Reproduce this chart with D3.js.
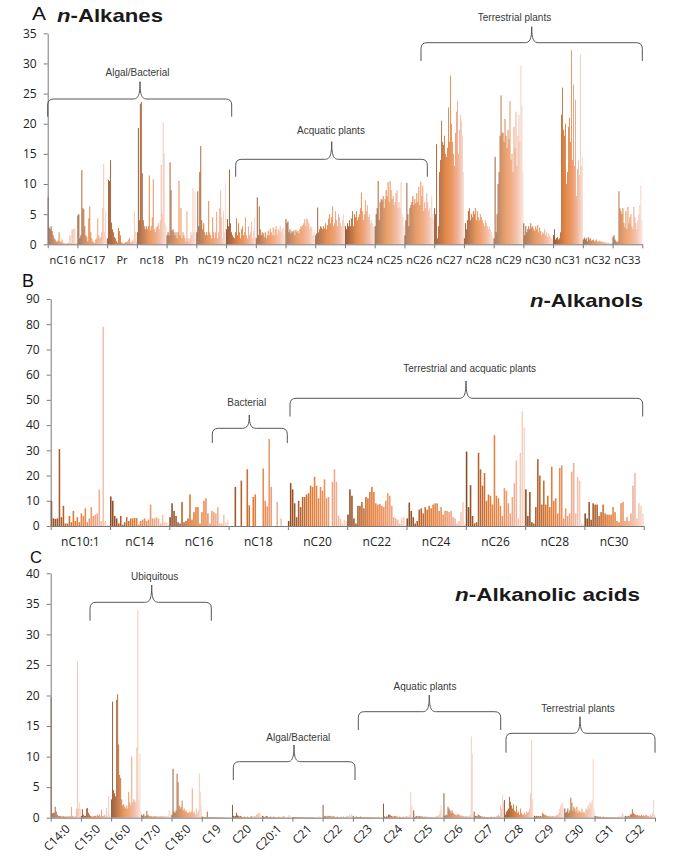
<!DOCTYPE html>
<html><head><meta charset="utf-8">
<script src="https://cdn.jsdelivr.net/npm/d3@7"></script>
<style>body{margin:0;background:#fff} svg{display:block}</style>
</head><body>
<svg id="chart" width="685" height="859"></svg>
<script>
// ---------- DATA ----------
const sampleCount = 30;
const colorStops = ["#8a4a22", "#b3602c", "#e07a32", "#ea8c52", "#efa98c", "#f7d8cc"];

// Panel A: n-Alkanes
const alkaneGroups = ["nC16","nC17","Pr","nc18","Ph","nC19","nC20","nC21","nC22","nC23","nC24","nC25","nC26","nC27","nC28","nC29","nC30","nC31","nC32","nC33"];
const alkaneTicks = [0,5,10,15,20,25,30,35];
const alkaneValues = [
 [7.9,2.8,2.5,3,2.2,1.5,1,0.8,0.5,0.4,0.6,2,0.5,0.3,0.8,0.2,0.2,0.1,0.1,0.2,0.2,0.3,1.5,0.2,2.4,2.5,2.6,2.6,0.2,0.3],
 [4.8,5,1,1.5,12.3,6,5.8,3,1.5,1.2,0.5,4.3,6.3,2,1,0.5,0.3,0.2,0.8,1,4.3,1.5,1,1.2,2,6,13.3,2,5.5,1],
 [1,10.7,10.5,14,3.6,2.5,2,1.2,1,0.5,0.3,2.7,2.2,1.5,0.3,0.2,0.1,0.2,0.3,0.4,0.5,0.8,1.1,0.3,0.4,0.6,0.8,5.5,2.1,0.5],
 [2,19.3,4,23.3,23.6,11.8,4,3,2.5,3,2.5,3,11.4,2.3,3,4.5,10.8,2.5,2,2.8,3,3.5,2.5,4,13.2,5,20.2,15,3.5,3],
 [1.5,2,1.5,13.6,9,2.3,2.5,2,1.5,2,1,2,10.5,1.5,6,1,2,1.5,1,0.5,5.5,1,0.5,1,2,1.5,9.3,2,8.8,1],
 [2,8.8,3,12,16.3,4,2.5,3.5,2,1.5,2,1.5,7.2,2,1.5,1,4.5,2,1,2,5.4,1,2,6,8.9,4.5,1,5.5,2,10.2],
 [2.5,4.2,3,12.4,3.5,2,1.5,1.2,1,2,4.3,1.5,3.5,2,1,2.5,3,1.5,2,4.5,1.5,1,3,1.5,2,3.8,1,2.2,4.5,1.2],
 [1,7.8,1.5,6.3,2.5,1.5,2,1.8,1.2,2,1,1.5,2.2,1.5,2.6,2,1.5,2.8,1.5,2.5,3,1.5,2.5,2.2,3,2,2.5,2.8,1.5,2.5],
 [4.2,3.5,3.8,2,2.5,1.8,2.2,2,2.3,1.5,2.4,2,2.2,1.8,2.5,3,2.8,3.2,3.5,4.2,3,4.3,4,3.5,2.6,3,2.8,1.5,2,2.4],
 [1.5,1.8,6.1,2,2.5,3,2.8,2.5,3,2.6,3.5,2.5,3.2,4.2,5,3.5,4.5,6.3,3,3.5,5.5,4,3,5,4.5,3.5,3,4,5,3.5],
 [3,2.5,3.5,3,4,3,4.3,5.5,3,5,4.5,5.5,4,4.5,5,6,8.6,5.5,4,5,7.3,5.5,6.5,4.5,5,3.5,4,3.5,2.8,3],
 [3,5,6,10.5,4,7,7.5,7.3,8,6,7.5,9,8,10.3,7,10.5,9,7.5,8,6.5,7,8.5,9,6,7,6,10.3,5,4.5,3],
 [1.5,4,10.2,5,3,6,6.5,7,8,6.5,7.5,6.8,8.5,7,9.5,6.5,10.4,8,9.7,5.5,7,6,8.5,7,5.5,6,4.5,8,5,4],
 [6,5,16.6,1,3,12,14,20.5,17,16.5,18,15,14.5,16,22.7,17,28,20,17,15,13,18.5,22,23.8,15,19,21.5,20.5,18,12],
 [1,3.5,2.5,4,5.5,6,4,5,4.5,5.5,5,6,4,5.5,4.5,4,5,4.5,4,3.5,3,4,3.5,3,2.5,3,2.5,2,1.5,1],
 [1,14.5,2,5,10,12,18,24.7,18.5,18.5,17,20.8,18,16,19,17.5,23.8,14,15,12,19.5,16,22,13,18,21.5,17,29.6,23,12],
 [3.5,1.5,3,2,2.5,3,2.5,3.5,2.8,3,2.5,2.2,3,2.5,3.2,2,2.8,2.2,1.5,2,1.8,2.5,1.5,2,1.2,1.8,1.5,1.2,1,0.8],
 [1.5,2.5,0.8,1,1.2,0.8,1,2,21.5,26,19,18,20,10,12,19.5,21,17,32.2,14,26.5,13,24,8,12.5,14,11.5,31.5,13,14.5],
 [0.8,1.1,0.8,1,0.5,1.2,0.8,1,0.6,0.7,0.8,0.5,0.6,0.8,0.5,0.4,0.6,0.5,0.4,0.5,0.3,0.4,0.3,0.3,0.2,0.3,0.2,0.2,0.3,0.2],
 [1.2,1.5,0.8,0.5,0.3,0.5,8.8,6,5.5,5,6,3.5,2.8,5.5,2.5,6.2,3.5,4.5,5,3,2.5,6.2,4.5,3.5,2.5,4,5,6.5,9.8,4]
];

// Panel B: n-Alkanols
const alkanolGroups = ["nC10:1","nC14","nC16","nC18","nC20","nC22","nC24","nC26","nC28","nC30"];
const alkanolTicks = [0,10,20,30,40,50,60,70,80,90];
const alkanolValues = [
 [10,3,2.8,3,30.5,3.5,8,1,1,4,1.5,6,2,3.5,1.5,5,4,7,1.5,3,7.5,4,4.5,5,14.5,2,79,2,0.5,0.3],
 [11.7,10,4,3,1,4,0.5,1.5,3.5,2,3,3,3.2,3.2,0.5,2,2.5,3,2,2.5,8.5,3,3,3.5,3,1,4.5,1.5,1.5,0.5],
 [3.5,9,6,4,1.5,1,9.5,1.5,2,3,12.5,2.5,5.5,7.5,7.5,1,5.5,10,11,5,1,6,5.5,5,7.5,1,1,4.5,1.5,2.5],
 [0,0,0,15.5,0,0,18,0,0,22.5,8.2,0,11.5,12.5,0,0,0,22.8,10,7.8,34.5,15.5,0,0,9.5,0,3,0,0,0],
 [2,17,14.5,9,3.5,10,7.5,11.5,11.5,12.5,13,16,15.5,19.5,16,11,15.5,14,18.5,11,11.5,0,17.5,22.5,17.5,4,3,1,2.5,2],
 [4.5,14.5,12,3,1,8,8,9.5,7,11.5,11,13.5,15.5,13.5,9,8.5,8.8,8,7.5,10,13,12,8,3.5,3,2.5,1,3,3.5,0.5],
 [3,9.3,6,3.5,1,2,6.5,7,5,7.5,6.5,8,7,8.5,9,9,6,7.5,4.5,6,6,5.5,6,3.5,3,1,2,5.5,9.5,0.5],
 [29.5,7.5,16.2,4,1,1.5,29,22.5,16,21,10,12.5,12,8.5,36,12,11,8,4,15,14,9,5,11.5,17,26,3,29,45.5,39],
 [14.5,4,13.5,1.5,1,7.5,26.5,20,8.5,18,8.5,12,7.5,23.5,10,11,5,23,24,3,7,4,5,21.5,25,5,19.5,18,1,0.5],
 [5,3,9.5,2.5,9,8.5,8.5,4,5.5,8.5,5,4.5,4.5,4.5,7.5,5.5,2,1.5,9,9.5,2,3.5,2,5,16,21,3,9,8,5]
];

// Panel C: n-Alkanolic acids
const acidGroups = ["C14:0","C15:0","C16:0","C17:0","C18:0","C19","C20","C20:1","C21","C22","C23","C24","C25","C26","C27","C28","C29","C30","C31","C32"];
const acidTicks = [0,5,10,15,20,25,30,35,40];
const acidValues = [
 [19.7,0.7,0.8,0.8,1.8,1,0.5,0.3,0.3,0.3,0.2,0.2,0.3,0.2,0.2,0.2,0.2,0.2,0.3,0.2,1.8,0.3,0.2,0.2,0.3,1.5,25.5,1.5,2.5,1.5],
 [0.3,1.4,0.5,0.3,0.3,1.5,1.6,0.8,0.5,0.3,0.2,0.2,0.2,0.3,0.3,0.2,0.5,0.3,0.5,0.2,1.3,0.3,0.3,0.5,0.2,1.6,0.3,3.6,0.5,0.3],
 [3,19,4.5,4,3.5,19.3,20.2,12,7,6.5,3,2,2.2,1.8,1.5,2,1.5,4.2,2.5,2,10,2.5,3,2.8,2.5,11.5,34,3,10.5,1],
 [0.5,0.3,0.6,0.2,0.3,1.1,0.5,0.3,0.2,0.3,0.2,0.2,0.2,0.3,0.2,0.2,0.2,0.2,0.2,0.3,0.2,0.2,0.3,0.2,0.2,0.3,0.2,1.2,0.5,0.3],
 [0.5,8,1,0.8,1.2,7.2,5.8,2,1.5,1.8,2.8,1.2,1.5,1,1.2,0.8,0.8,1,0.8,1,4.8,0.8,1,0.5,1.5,0.8,1.2,7.3,4.2,2],
 [0.2,0.1,0.1,0.1,0.1,1,0.1,0.1,0.1,0.1,0.1,0.1,0.1,0.1,0.1,0.1,0.1,0.1,0.1,0.1,0.1,0.1,0.1,0.1,0.1,0.1,0.1,0.1,0.1,0.1],
 [2.1,0.3,0.2,0.3,0.8,0.4,0.3,0.2,0.3,0.2,0.1,0.1,0.2,0.1,0.1,0.2,0.1,0.1,0.2,0.3,0.2,0.1,0.3,0.2,0.5,0.6,0.8,0.9,0.5,0.3],
 [0.3,0.2,0.1,0.2,0.3,0.2,0.1,0.1,0.2,0.1,0.1,0.2,0.1,0.1,0.1,0.1,0.2,0.1,0.1,0.1,0.2,0.3,0.1,0.1,0.1,0.1,0.4,0.3,0.1,0.1],
 [0.1,0.1,0.1,0.1,0.1,0.1,0.1,0.1,0.1,0.1,0.1,0.1,0.1,0.1,0.1,0.1,0.1,0.1,0.1,0.1,0.1,0.1,0.1,0.1,0.1,0.1,0.2,0.1,0.1,0.1],
 [2.1,0.2,0.3,0.2,0.2,0.3,0.2,0.3,0.2,0.2,0.3,0.2,0.1,0.1,0.2,0.1,0.1,0.1,0.2,0.1,0.2,0.1,0.1,0.2,0.3,0.2,0.5,0.3,0.6,0.3],
 [0.3,0.1,0.1,0.2,0.1,0.1,0.1,0.2,0.1,0.1,0.1,0.1,0.1,0.1,0.1,0.1,0.1,0.1,0.1,0.1,0.1,0.1,0.1,0.1,0.1,0.2,0.1,0.1,0.1,0.1],
 [2.3,0.2,0.1,0.2,0.2,0.5,0.5,0.4,0.3,0.2,0.2,0.3,0.3,0.2,0.2,0.1,0.2,0.1,0.1,0.1,0.2,0.1,0.2,0.3,0.2,0.2,0.5,4.2,2,0.3],
 [1.2,0.1,0.2,0.3,0.2,0.2,0.3,0.2,0.2,0.2,0.1,0.2,0.1,0.2,0.1,0.1,0.1,0.1,0.1,0.1,0.1,0.1,0.2,0.2,0.3,0.5,1,2,0.5,0.3],
 [4,0.3,0.5,0.4,1.8,1.5,1.2,0.8,1.2,0.8,0.6,0.5,0.4,0.5,0.6,0.5,0.3,0.4,0.3,0.3,0.2,0.2,0.3,0.2,0.2,0.3,0.5,13.3,10.5,0.4],
 [1,0.3,0.3,0.2,0.5,0.4,0.3,0.2,0.2,0.1,0.2,0.1,0.1,0.1,0.1,0.1,0.1,0.2,0.1,0.1,0.2,0.1,0.2,0.3,0.5,0.3,2,1.5,3.8,2.5],
 [2.9,0.5,1,1.2,1.5,3.4,2.6,2,1.5,2.2,1.2,1,2,0.8,1,0.5,1.5,0.8,0.5,0.5,0.8,0.5,1,0.8,1,1.5,4,12.7,3,0.5],
 [0.3,0.2,0.3,0.2,0.3,0.2,0.3,0.2,0.8,0.6,0.4,0.5,0.3,0.3,0.2,0.3,0.2,0.2,0.3,0.2,0.2,0.3,0.4,0.5,0.8,1.5,2,2.5,2.2,1.5],
 [1.5,0.8,1,1.5,0.8,1.2,3.3,2.5,1.2,1.8,1.5,1,1.8,0.8,1.2,1,0.8,1.5,0.8,1,0.7,1.5,1.2,2,1.5,2.5,2.2,2.8,9.6,1.5],
 [0.3,0.2,0.2,0.2,0.1,0.2,0.1,0.1,0.2,0.1,0.1,0.1,0.1,0.1,0.1,0.1,0.1,0.1,0.1,0.1,0.1,0.1,0.1,0.2,0.1,0.2,0.3,0.8,0.5,0.2],
 [0.3,0.2,0.2,0.3,0.2,0.5,0.6,1.4,0.8,0.6,0.5,0.4,0.5,0.3,0.4,0.3,0.5,0.3,0.4,0.3,0.4,0.5,0.3,0.3,0.2,0.5,0.3,0.8,2.9,0.5]
];

// ---------- DRAWING ----------
const svg = d3.select("#chart");
const sampleColor = d3.piecewise(d3.interpolateRgb, colorStops);
const AXIS = "#7a7a7a";
const TICKFONT = "'Open Sans', 'Noto Sans', sans-serif";

function drawPanel(p) {
  const n = p.groups.length;
  const g = svg.append("g");
  const x = d3.scaleBand().domain(p.groups).range([p.x0, p.x1]).padding(0);
  const xb = d3.scaleLinear().domain([0, n]).range([p.x0, p.x1]);
  const s = d3.scaleBand().domain(d3.range(sampleCount)).range([0, x.bandwidth()]).paddingInner(p.pad);
  const y = d3.scaleLinear().domain([0, p.ymax]).range([p.y0, p.yTop]);

  p.groups.forEach((grp, gi) => {
    g.append("g").selectAll("rect").data(p.values[gi]).join("rect")
      .attr("x", (d, i) => x(grp) + s(i))
      .attr("y", d => y(d))
      .attr("width", s.bandwidth())
      .attr("height", d => y(0) - y(d))
      .attr("fill", (d, i) => sampleColor(i / (sampleCount - 1)));
  });

  // y axis
  const ya = g.append("g").attr("transform", `translate(${p.x0},0)`)
    .call(d3.axisLeft(y).tickValues(p.ticks).tickSize(4).tickSizeOuter(0).tickPadding(7));
  ya.select(".domain").attr("stroke", AXIS);
  ya.selectAll(".tick line").attr("stroke", AXIS);
  ya.selectAll(".tick text").attr("font-family", TICKFONT).attr("font-size", 12).attr("fill", "#222");

  // x axis: boundary ticks
  const xa = g.append("g").attr("transform", `translate(0,${p.y0})`)
    .call(d3.axisBottom(xb).tickValues(d3.range(n + 1)).tickFormat("").tickSize(4).tickSizeOuter(0));
  xa.select(".domain").attr("stroke", AXIS);
  xa.selectAll(".tick line").attr("stroke", AXIS);

  // group labels
  const lab = g.append("g").selectAll("text").data(p.groups).join("text")
    .attr("font-family", TICKFONT).attr("font-size", p.labelSize).attr("fill", "#222")
    .text(d => d);
  if (p.rotate) {
    lab.attr("text-anchor", "end")
      .attr("transform", d => `translate(${x(d) + x.bandwidth() / 2 + 5},${p.y0 + 12}) rotate(-45)`);
  } else {
    lab.attr("text-anchor", "middle")
      .attr("x", d => x(d) + x.bandwidth() / 2)
      .attr("y", p.y0 + p.labelDy);
  }
}

drawPanel({groups: alkaneGroups, values: alkaneValues, ticks: alkaneTicks, ymax: 35,
  x0: 47.7, x1: 642.3, y0: 244.3, yTop: 33.3, pad: 0.1, labelDy: 20, labelSize: 11});
drawPanel({groups: alkanolGroups, values: alkanolValues, ticks: alkanolTicks, ymax: 90,
  x0: 50.7, x1: 643.7, y0: 526, yTop: 299, pad: 0.22, labelDy: 20, labelSize: 12});
drawPanel({groups: acidGroups, values: acidValues, ticks: acidTicks, ymax: 40,
  x0: 50.7, x1: 655, y0: 817.7, yTop: 573.3, pad: 0.1, rotate: true, labelSize: 12});

// braces
function brace(xL, xR, yTop, yTip, yEnd, xTip, label, tx, ty) {
  const r = 6;
  const path = `M${xL},${yEnd} L${xL},${yTop + r} Q${xL},${yTop} ${xL + r},${yTop}`
    + ` L${xTip - 7},${yTop} C${xTip - 2},${yTop} ${xTip},${yTop - 3} ${xTip},${yTip}`
    + ` C${xTip},${yTop - 3} ${xTip + 2},${yTop} ${xTip + 7},${yTop}`
    + ` L${xR - r},${yTop} Q${xR},${yTop} ${xR},${yTop + r} L${xR},${yEnd}`;
  svg.append("path").attr("d", path).attr("fill", "none").attr("stroke", "#555").attr("stroke-width", 1);
  svg.append("text").attr("x", tx).attr("y", ty).attr("text-anchor", "middle")
    .attr("font-family", "'Liberation Sans', Arial, sans-serif").attr("font-size", 10).attr("fill", "#3a3a3a")
    .text(label);
}
brace(47.7, 231.7, 99, 81.7, 116.7, 140, "Algal/Bacterial", 137.5, 76);
brace(235.7, 427.3, 159.3, 141.7, 176.7, 331.7, "Acquatic plants", 331, 134);
brace(421, 642.3, 42.7, 26.7, 61, 531.7, "Terrestrial plants", 514.5, 20.5);
brace(212.3, 287.3, 428.3, 415, 443, 249.3, "Bacterial", 246.7, 406);
brace(290, 642.7, 398.3, 381, 416.5, 466, "Terrestrial and acquatic plants", 469.7, 372);
brace(90, 211.3, 602.3, 585, 620.7, 151.7, "Ubiquitous", 154.7, 580);
brace(233.3, 355, 761.7, 745, 780, 294, "Algal/Bacterial", 298.3, 741);
brace(358.3, 500.7, 711.7, 695, 730, 429.3, "Aquatic plants", 425, 690);
brace(506, 655, 733.3, 716.7, 752.7, 580, "Terrestrial plants", 578, 712);

// titles
const TF = "'Liberation Sans', Arial, sans-serif";
function letter(t, x, yb, w, size) {
  svg.append("text").attr("x", x).attr("y", yb).attr("font-family", TF).attr("font-size", size)
    .attr("fill", "#111").attr("textLength", w).attr("lengthAdjust", "spacingAndGlyphs").text(t);
}
letter("A", 32, 20, 14, 18);
letter("B", 22, 287, 12, 18);
letter("C", 30, 563, 12, 16);
function title(rest, x, yb, w) {
  const t = svg.append("text").attr("x", x).attr("y", yb).attr("font-family", TF).attr("font-size", 19)
    .attr("font-weight", "bold").attr("fill", "#1a1a1a").attr("textLength", w).attr("lengthAdjust", "spacingAndGlyphs");
  t.append("tspan").attr("font-style", "italic").text("n");
  t.append("tspan").text(rest);
}
title("-Alkanes", 57, 22, 106);
title("-Alkanols", 530, 307, 113);
title("-Alkanolic acids", 455, 601, 185);
</script>
</body></html>
